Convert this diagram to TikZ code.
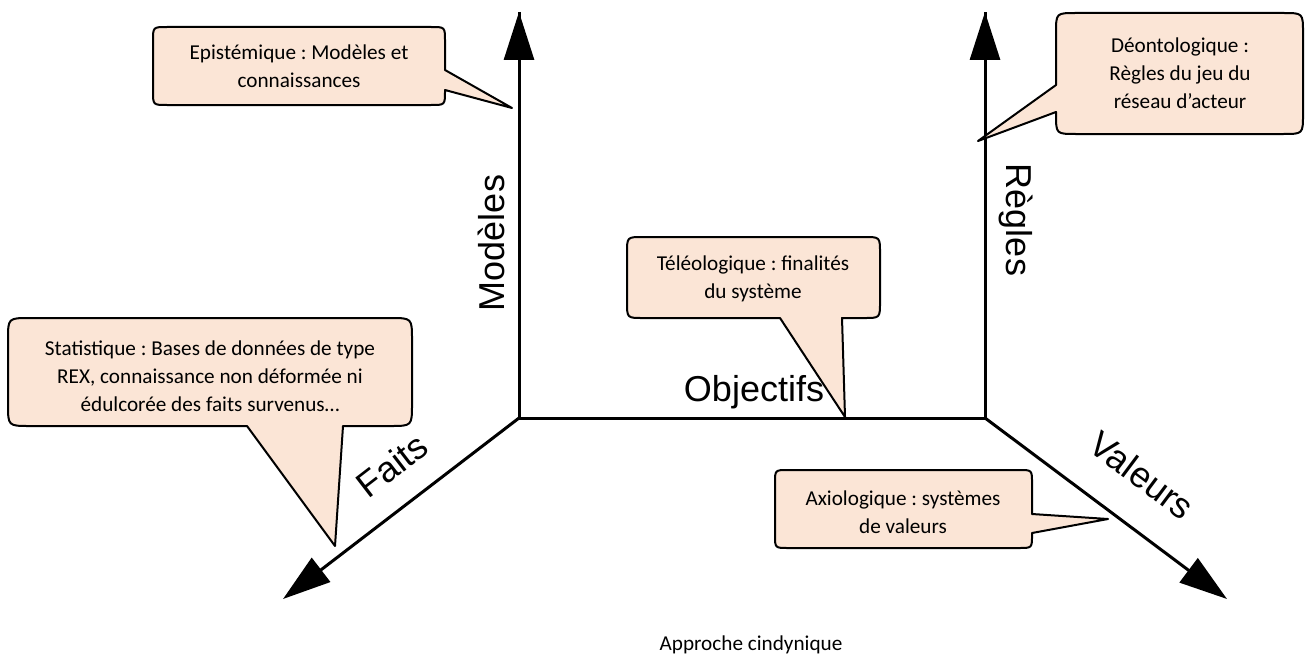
\documentclass[tikz,border=0pt]{standalone}
\usepackage{fontspec}
\setmainfont{Carlito}
\newfontfamily\arialf{Liberation Sans}
\usetikzlibrary{arrows.meta}
\definecolor{calloutfill}{HTML}{FBE5D6}
\frenchspacing
\begin{document}
\begin{tikzpicture}[x=0.5pt,y=-0.5pt,
  axisline/.style={line width=1.5pt, line cap=butt},
  axis/.style={axisline, -{Triangle[length=24pt,width=15pt]}},
  callout/.style={fill=calloutfill, draw=black, line width=1pt, line join=round},
  ctext/.style={align=center, font=\fontsize{10.6}{14}\selectfont, inner sep=0pt},
  axlabel/.style={font=\arialf\fontsize{18}{22}\selectfont, inner sep=0pt}]
\useasboundingbox (0,0) rectangle (1309,658);
% axes
\coordinate (OL) at (519,418);
\coordinate (OR) at (985,418);
\coordinate (TL) at (519,12);
\coordinate (TR) at (985,12);
\coordinate (TF) at (283,599);
\coordinate (TV) at (1227,599);
\draw[axisline, line join=miter] (TL) -- (OL) -- (OR) -- (TR);
\draw[axis] (OL) -- (TL);
\draw[axis] (OR) -- (TR);
\draw[axis] (OL) -- (TF);
\draw[axis] (OR) -- (TV);
% axis labels
\node[axlabel, rotate=90] (lmod) at (491,243) {Modèles};
\node[axlabel, rotate=-90] (lreg) at (1016,220) {Règles};
\node[axlabel, anchor=base] (lobj) at (754,401) {Objectifs};
\node[axlabel, rotate=37.6] (lfai) at (392,465) {Faits};
\node[axlabel, rotate=-36.8] (lval) at (1142,475) {Valeurs};
% pointer tips
\coordinate (p1) at (512,108);
\coordinate (p2) at (978,141);
\coordinate (p3) at (335,546);
\coordinate (p4) at (845,417);
\coordinate (p5) at (1108,519);
% callout 1
\draw[callout] (167,27) -- (431,27) .. controls (445,27) .. (445,41) -- (445,70) -- (p1) -- (445,90) -- (445,91) .. controls (445,105) .. (431,105) -- (167,105) .. controls (153,105) .. (153,91) -- (153,41) .. controls (153,27) .. (167,27) -- cycle;
% callout 2
\draw[callout] (1076,13) -- (1283,13) .. controls (1303,13) .. (1303,33) -- (1303,114) .. controls (1303,134) .. (1283,134) -- (1076,134) .. controls (1056,134) .. (1056,114) -- (1056,112) -- (p2) -- (1056,85) -- (1056,33) .. controls (1056,13) .. (1076,13) -- cycle;
% callout 3
\draw[callout] (30,318) -- (390,318) .. controls (412,318) .. (412,340) -- (412,404) .. controls (412,426) .. (390,426) -- (343,426) -- (p3) -- (247,426) -- (30,426) .. controls (8,426) .. (8,404) -- (8,340) .. controls (8,318) .. (30,318) -- cycle;
% callout 4
\draw[callout] (643,237) -- (864,237) .. controls (880,237) .. (880,253) -- (880,302) .. controls (880,318) .. (864,318) -- (842,318) -- (p4) -- (780,318) -- (643,318) .. controls (627,318) .. (627,302) -- (627,253) .. controls (627,237) .. (643,237) -- cycle;
% callout 5
\draw[callout] (788,470) -- (1019,470) .. controls (1032,470) .. (1032,483) -- (1032,514) -- (p5) -- (1032,533) -- (1032,535) .. controls (1032,548) .. (1019,548) -- (788,548) .. controls (775,548) .. (775,535) -- (775,483) .. controls (775,470) .. (788,470) -- cycle;
% callout texts
\node[ctext] (t1) at (299,66) {Epistémique : Modèles et\\connaissances};
\node[ctext] (t2) at (1180,73) {Déontologique :\\Règles du jeu du\\réseau d’acteur};
\node[ctext] (t3) at (210,376) {Statistique : Bases de données de type\\REX, connaissance non déformée ni\\édulcorée des faits survenus…};
\node[ctext] (t4) at (753,279) {Téléologique : finalités\\du système};
\node[ctext] (t5) at (903,512) {Axiologique : systèmes\\de valeurs};
% caption
\node[ctext] (cap) at (751,645) {Approche cindynique};
\end{tikzpicture}
\end{document}
